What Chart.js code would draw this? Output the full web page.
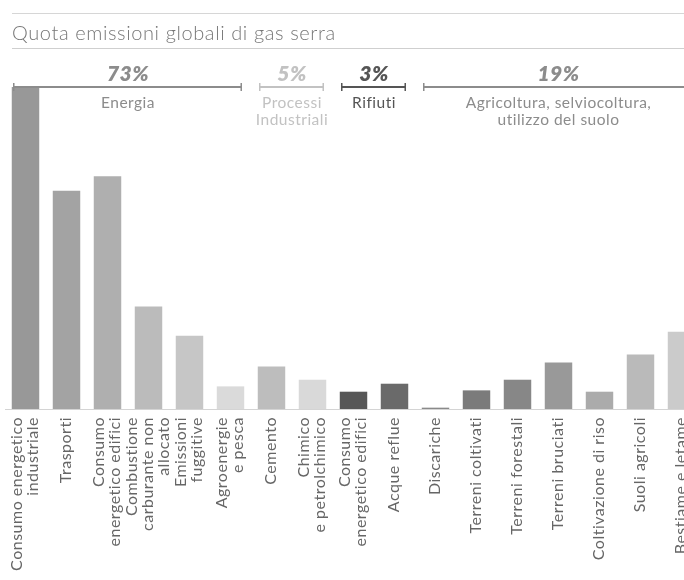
<!DOCTYPE html>
<html>
<head>
<meta charset="utf-8">
<script src="https://cdn.jsdelivr.net/npm/chart.js@4.4.0/dist/chart.umd.min.js"></script>
<style>
  html, body { margin: 0; padding: 0; background: #fff; overflow: hidden; }
  #wrap { position: relative; width: 704px; height: 580px; }
  #titolo {
    position: absolute; left: 12px; top: 13px; width: 700px; height: 36px;
    border-top: 1px solid #d6d6d6; border-bottom: 1px solid #cfcfcf;
    font-family: Lato, sans-serif; font-weight: 300; font-size: 20px; color: #777;
    letter-spacing: 0.6px; line-height: 36px; box-sizing: border-box;
  }
</style>
</head>
<body>
<div id="wrap">
  <canvas id="graficaEmissioni" width="704" height="580"></canvas>
  <div id="titolo">Quota emissioni globali di gas serra</div>
</div>
<script>
// Categorie (etichette asse x)
const categorie = [
  ['Consumo energetico', 'industriale'],
  'Trasporti',
  ['Consumo', 'energetico edifici'],
  ['Combustione', 'carburante non', 'allocato'],
  ['Emissioni', 'fuggitive'],
  ['Agroenergie', 'e pesca'],
  'Cemento',
  ['Chimico', 'e petrolchimico'],
  ['Consumo', 'energetico edifici'],
  'Acque reflue',
  'Discariche',
  'Terreni coltivati',
  'Terreni forestali',
  'Terreni bruciati',
  'Coltivazione di riso',
  'Suoli agricoli',
  'Bestiame e letame'
];

// Quota (%) per categoria
const quote = [24.2, 16.4, 17.5, 7.7, 5.5, 1.7, 3.2, 2.2, 1.3, 1.9, 0.1, 1.4, 2.2, 3.5, 1.3, 4.1, 5.8];

const coloriBarre = [
  '#989898', '#a3a3a3', '#afafaf', '#bbbbbb', '#c6c6c6', '#dadada', '#bdbdbd', '#d9d9d9',
  '#575757', '#6a6a6a', '#8a8a8a', '#7b7b7b', '#878787', '#999999', '#ababab', '#bababa', '#cbcbcb'
];

// Gruppi (settori)
const gruppiNomi = [['Energia'], ['Processi', 'Industriali'], ['Rifiuti'], ['Agricoltura, selviocoltura,', 'utilizzo del suolo']];
const gruppiQuote = ['73%', '5%', '3%', '19%'];
const gruppiInizio = [0, 6, 8, 10];
const gruppiFine = [5, 7, 9, 16];
const gruppiColori = ['#8c8c8c', '#c2c2c2', '#555555', '#8c8c8c'];

// disegna le etichette ruotate centrate sulla barra
const etichettePlugin = {
  id: 'etichette',
  afterDraw(chart) {
    const ctx = chart.ctx;
    const x = chart.scales.x;
    const base = chart.chartArea.bottom;
    const lineH = 16;
    ctx.save();
    ctx.letterSpacing = '0.5px';
    ctx.fillStyle = '#666';
    ctx.font = '400 16px Lato';
    ctx.textAlign = 'right';
    ctx.textBaseline = 'middle';
    categorie.forEach((lab, i) => {
      const righe = Array.isArray(lab) ? lab : [lab];
      const cx = x.getPixelForValue(i) - 1;
      righe.forEach((r, j) => {
        const off = (j - (righe.length - 1) / 2) * lineH;
        ctx.save();
        ctx.translate(cx + off, base + 8);
        ctx.rotate(-Math.PI / 2);
        ctx.fillText(r, 0, 0);
        ctx.restore();
      });
    });
    ctx.restore();
  }
};

const settoriPlugin = {
  id: 'settori',
  afterDatasetsDraw(chart) {
    const ctx = chart.ctx;
    const x = chart.scales.x;
    const top = chart.chartArea.top;
    const meta = chart.getDatasetMeta(0);
    const half = meta.data[0].width / 2;
    ctx.save();
    ctx.letterSpacing = '0.5px';
    gruppiNomi.forEach((nome, i) => {
      const a = x.getPixelForValue(gruppiInizio[i]);
      const b = x.getPixelForValue(gruppiFine[i]);
      const left = a - half + 2;
      const right = b + half - 3;
      const mid = (a + b) / 2;
      ctx.strokeStyle = gruppiColori[i];
      ctx.lineWidth = 2;
      ctx.beginPath();
      ctx.moveTo(left, top);
      ctx.lineTo(right, top);
      ctx.stroke();
      ctx.lineWidth = 1.5;
      ctx.beginPath();
      ctx.moveTo(left, top - 4); ctx.lineTo(left, top + 4);
      ctx.moveTo(right, top - 4); ctx.lineTo(right, top + 4);
      ctx.stroke();
      ctx.fillStyle = gruppiColori[i];
      ctx.textAlign = 'center';
      ctx.textBaseline = 'middle';
      ctx.font = 'italic 800 21px Lato';
      ctx.fillText(gruppiQuote[i], mid, top - 13);
      ctx.font = '400 15.5px Lato';
      nome.forEach((riga, j) => {
        ctx.fillText(riga, mid, top + 16 + j * 17);
      });
    });
    ctx.restore();
  }
};

const ctx = document.getElementById('graficaEmissioni').getContext('2d');
new Chart(ctx, {
  type: 'bar',
  data: {
    labels: categorie,
    datasets: [{
      label: 'Quota emissioni',
      data: quote,
      backgroundColor: coloriBarre,
      borderWidth: 0,
      categoryPercentage: 1,
      barPercentage: 0.67
    }]
  },
  options: {
    responsive: false,
    animation: false,
    layout: { padding: { top: 87, left: 5, right: 2, bottom: 0 } },
    plugins: {
      legend: { display: false },
      tooltip: { enabled: false }
    },
    scales: {
      x: {
        grid: { display: false },
        border: { display: true, color: '#d4d4d4', width: 1 },
        ticks: { display: false },
        afterFit(scale) { scale.height = 171; }
      },
      y: {
        display: false,
        min: 0,
        max: 24.2
      }
    }
  },
  plugins: [settoriPlugin, etichettePlugin]
});
</script>
</body>
</html>
